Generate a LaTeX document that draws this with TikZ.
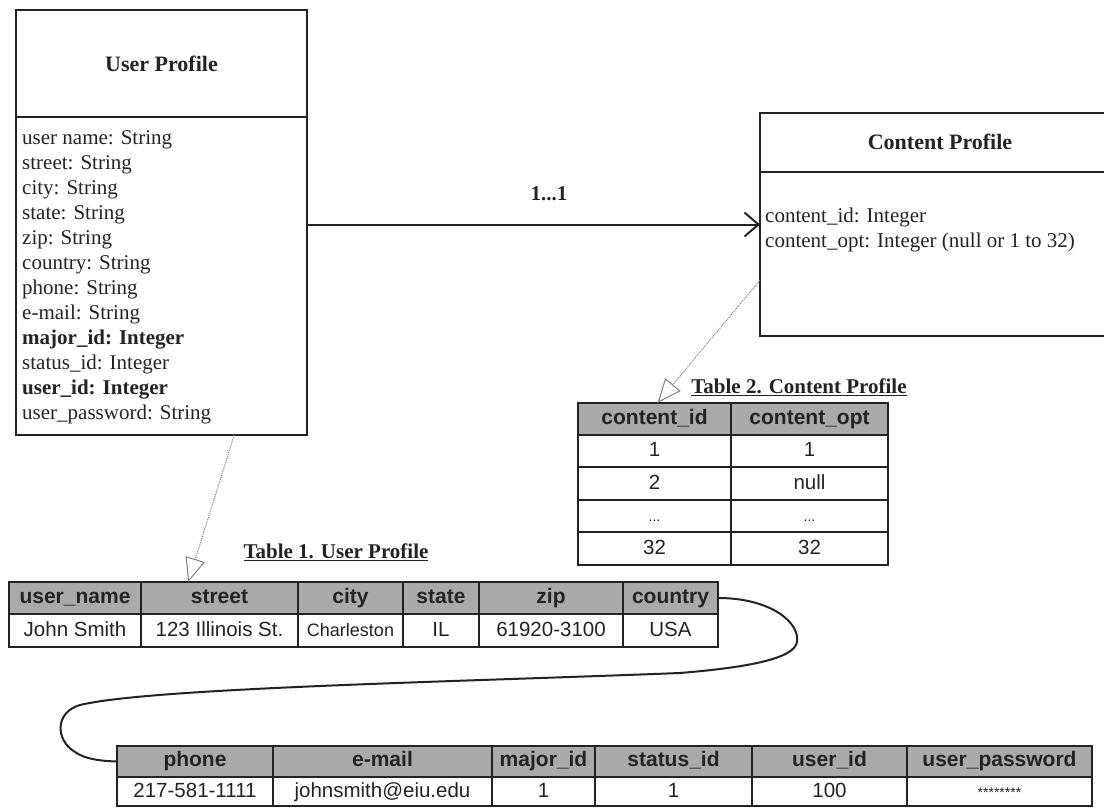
\documentclass[tikz,border=0pt]{standalone}
\usepackage{fontspec}
\setmainfont{Liberation Serif}
\setsansfont{Liberation Sans}
\usetikzlibrary{arrows.meta,calc}
\definecolor{hdrgray}{RGB}{170,170,170}
\definecolor{ink}{RGB}{35,35,35}
\newcommand\mycell[7]{\node[#1, minimum width={#5pt-#3pt}, minimum height={#6pt-#4pt}] (#2) at ({(#3+#5)/2},{(#4+#6)/2}) {#7};}
\begin{document}
\begin{tikzpicture}[x=1pt,y=-1pt,
  umlbox/.style={draw=ink, line width=1.4pt, inner sep=0pt, outer sep=0pt},
  hdr/.style={draw=ink, line width=1.3pt, fill=hdrgray, inner sep=0pt, outer sep=0pt, text=ink, text height=15pt, text depth=4.5pt, font=\sffamily\bfseries\fontsize{21}{23}\selectfont},
  cell/.style={draw=ink, line width=1.3pt, inner sep=0pt, outer sep=0pt, text=ink, text height=15pt, text depth=4pt, font=\sffamily\fontsize{20.5}{23}\selectfont},
  attr/.style={anchor=west, inner sep=0pt, text=ink, text height=14pt, text depth=5pt, font=\fontsize{21}{24}\selectfont},
  title/.style={inner sep=0pt, text=ink, font=\bfseries\fontsize{22}{24}\selectfont},
  caption/.style={inner sep=0pt, text=ink, font=\bfseries\fontsize{21}{24}\selectfont},
  realize/.style={densely dotted, gray, line width=1pt, -{Triangle[open, length=24pt, width=20pt, line width=1pt]}},
  assoc/.style={draw=ink, line width=2pt, -{Straight Barb[length=14pt, width=24pt, line width=2pt]}},
  curve/.style={draw=ink, line width=2pt}
]
\useasboundingbox (0,0) rectangle (1104,808);
\clip (0,0) rectangle (1104,808);

% ---------- User Profile class ----------
\node[umlbox, minimum width=291pt, minimum height=425pt] (upbox) at (161.5,222.5) {};
\draw[ink, line width=1.4pt] (upbox.west |- 0,117) -- (upbox.east |- 0,117);
\node[title] (uptitle) at (161.5,64) {User Profile};
\node[attr] (a1) at (22,140) {user name: String};
\node[attr] (a2) at (22,165) {street: String};
\node[attr] (a3) at (22,190) {city: String};
\node[attr] (a4) at (22,215) {state: String};
\node[attr] (a5) at (22,240) {zip: String};
\node[attr] (a6) at (22,265) {country: String};
\node[attr] (a7) at (22,290) {phone: String};
\node[attr] (a8) at (22,315) {e-mail: String};
\node[attr, font=\bfseries\fontsize{21}{24}\selectfont] (a9) at (22,340) {major\_id: Integer};
\node[attr] (a10) at (22,365) {status\_id: Integer};
\node[attr, font=\bfseries\fontsize{21}{24}\selectfont] (a11) at (22,390) {user\_id: Integer};
\node[attr] (a12) at (22,415) {user\_password: String};

% ---------- Content Profile class ----------
\node[umlbox, minimum width=360pt, minimum height=223pt] (cpbox) at (940,224.5) {};
\draw[ink, line width=1.4pt] (cpbox.west |- 0,172) -- (cpbox.east |- 0,172);
\node[title] (cptitle) at (940,142) {Content Profile};
\node[attr] (c1) at (765,218) {content\_id: Integer};
\node[attr] (c2) at (765,243) {content\_opt: Integer (null or 1 to 32)};

% ---------- association ----------
\draw[assoc] (upbox.east |- cpbox.west) -- (cpbox.west);
\node[caption] (mult) at (549,194) {1...1};

% ---------- Table 2 ----------
\node[caption] (cap2) at (799,387) {\underline{Table 2. Content Profile}};
\mycell{hdr}{t2h1}{578}{403}{731}{435}{content\_id}
\mycell{hdr}{t2h2}{731}{403}{888}{435}{content\_opt}
\mycell{cell}{t2a1}{578}{435}{731}{467}{1}
\mycell{cell}{t2a2}{731}{435}{888}{467}{1}
\mycell{cell}{t2b1}{578}{467}{731}{500}{2}
\mycell{cell}{t2b2}{731}{467}{888}{500}{null}
\mycell{cell}{t2c1}{578}{500}{731}{532}{\fontsize{14}{16}\selectfont ...}
\mycell{cell}{t2c2}{731}{500}{888}{532}{\fontsize{14}{16}\selectfont ...}
\mycell{cell}{t2d1}{578}{532}{731}{565}{32}
\mycell{cell}{t2d2}{731}{532}{888}{565}{32}

% ---------- Table 1 ----------
\node[caption] (cap1) at (336,552) {\underline{Table 1. User Profile}};
\mycell{hdr}{t1h1}{9}{582}{141}{614}{user\_name}
\mycell{hdr}{t1h2}{141}{582}{298}{614}{street}
\mycell{hdr}{t1h3}{298}{582}{403}{614}{city}
\mycell{hdr}{t1h4}{403}{582}{479}{614}{state}
\mycell{hdr}{t1h5}{479}{582}{623}{614}{zip}
\mycell{hdr}{t1h6}{623}{582}{718}{614}{country}
\mycell{cell}{t1r1}{9}{614}{141}{647}{John Smith}
\mycell{cell}{t1r2}{141}{614}{298}{647}{123 Illinois St.}
\mycell{cell}{t1r3}{298}{614}{403}{647}{\fontsize{18}{20}\selectfont Charleston}
\mycell{cell}{t1r4}{403}{614}{479}{647}{IL}
\mycell{cell}{t1r5}{479}{614}{623}{647}{61920-3100}
\mycell{cell}{t1r6}{623}{614}{718}{647}{USA}

% ---------- Table 1 (continued) ----------
\mycell{hdr}{t3h1}{117}{746}{273}{777}{phone}
\mycell{hdr}{t3h2}{273}{746}{492}{777}{e-mail}
\mycell{hdr}{t3h3}{492}{746}{595}{777}{major\_id}
\mycell{hdr}{t3h4}{595}{746}{752}{777}{status\_id}
\mycell{hdr}{t3h5}{752}{746}{907}{777}{user\_id}
\mycell{hdr}{t3h6}{907}{746}{1092}{777}{user\_password}
\mycell{cell}{t3r1}{117}{777}{273}{806}{217-581-1111}
\mycell{cell}{t3r2}{273}{777}{492}{806}{johnsmith@eiu.edu}
\mycell{cell}{t3r3}{492}{777}{595}{806}{1}
\mycell{cell}{t3r4}{595}{777}{752}{806}{1}
\mycell{cell}{t3r5}{752}{777}{907}{806}{100}
\mycell{cell}{t3r6}{907}{777}{1092}{806}{\fontsize{14}{16}\selectfont ********}

% ---------- realization connectors ----------
\coordinate (r1s) at ($(upbox.south west)!0.75!(upbox.south east)$);
\coordinate (r1e) at ($(t1h2.north west)!0.30!(t1h2.north east)$);
\draw[realize] (r1s) -- (r1e);
\coordinate (r2s) at ($(cpbox.north west)!0.75!(cpbox.south west)$);
\coordinate (r2e) at ($(t2h1.north west)!0.52!(t2h1.north east)$);
\draw[realize] (r2s) -- (r2e);

% ---------- continuation curve ----------
\draw[curve] (t1h6.east) .. controls (770,598) and (800,622) .. (797,642)
  .. controls (794,660) and (740,668) .. (680,673)
  .. controls (450,682) and (150,688) .. (80,705)
  .. controls (55,712) and (55,740) .. (75,752)
  .. controls (85,759) and (100,761) .. (t3h1.west);
\end{tikzpicture}
\end{document}
